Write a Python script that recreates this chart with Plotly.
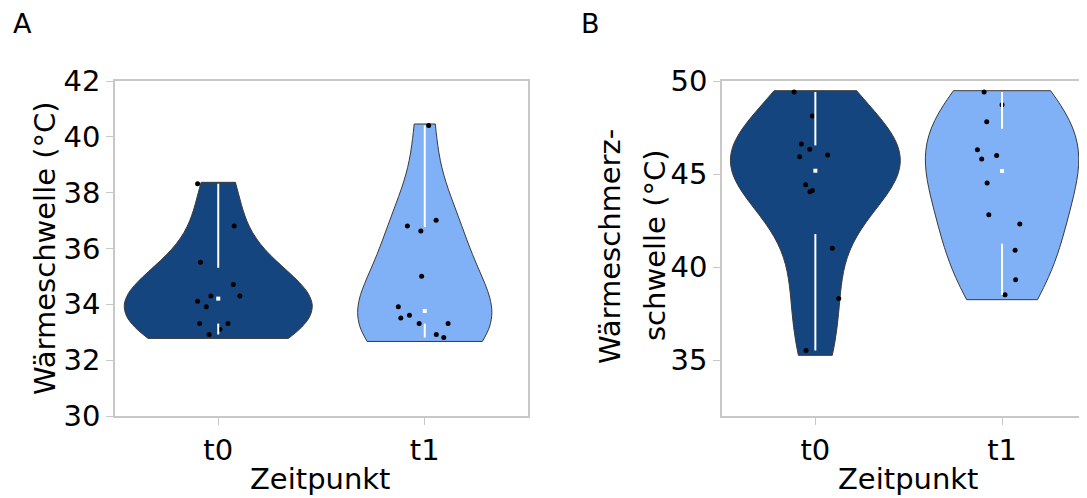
import numpy as np
import plotly.graph_objects as go

# ---------------- data ----------------
categories = ["t0", "t1"]

# Panel A: Wärmeschwelle (°C)
a_t0 = [38.32, 36.81, 35.51, 34.71, 34.30, 34.30, 34.11, 33.91, 33.31, 33.31, 33.11, 32.92]
a_t1 = [40.41, 37.01, 36.81, 36.63, 35.01, 33.91, 33.51, 33.61, 33.31, 33.31, 32.92, 32.81]
a_t0_jit = [-0.100, 0.077, -0.086, 0.073, -0.036, 0.105, -0.100, -0.058, -0.090, 0.047, 0.008, -0.044]
a_t1_jit = [0.019, 0.055, -0.084, -0.019, -0.015, -0.128, -0.116, -0.074, -0.027, 0.113, 0.056, 0.092]

# Panel B: Wärmeschmerzschwelle (°C)
b_t0 = [49.41, 48.12, 46.61, 46.33, 45.93, 46.02, 44.43, 44.05, 44.12, 41.02, 38.32, 35.52]
b_t1 = [49.41, 48.73, 47.81, 46.31, 45.81, 46.00, 44.52, 42.81, 42.31, 40.91, 39.32, 38.51]
b_t0_jit = [-0.114, -0.016, -0.075, -0.030, -0.084, 0.066, -0.052, -0.029, -0.016, 0.091, 0.125, -0.050]
b_t1_jit = [-0.096, 0.000, -0.082, -0.132, -0.109, -0.029, -0.080, -0.071, 0.095, 0.070, 0.073, 0.016]

a_ticks = [30, 32, 34, 36, 38, 40, 42]
b_ticks = [35, 40, 45, 50]

# ---------------- style ----------------
# the page body adds an 8px offset, so the figure is 8px smaller and
# all pixel positions below are the reference positions minus 8
W, H = 1079, 490
FONT = "DejaVu Sans"
COLORS = ["#15457F", "#80B0F5"]
OUTLINE = "#3a3a3a"
FRAME = "#c8c8c8"
TICKFS = 29
TITLEFS = 29

fig = go.Figure()


def add_panel(series, jitters, xa, ya, widths, bws, pad_lo, pad_hi):
    for i, vals in enumerate(series):
        v = np.array(vals, dtype=float)
        fig.add_trace(go.Violin(
            y=v, x0=i, xaxis=xa, yaxis=ya,
            fillcolor=COLORS[i], line=dict(color=OUTLINE, width=1),
            opacity=1, points=False, box_visible=False, meanline_visible=False,
            spanmode="manual", span=[v.min() - pad_lo, v.max() + pad_hi],
            bandwidth=bws[i], scalemode="width", width=widths[i],
            hoverinfo="skip", showlegend=False,
        ))
    for i, (vals, jit) in enumerate(zip(series, jitters)):
        fig.add_trace(go.Scatter(
            x=[i + j for j in jit], y=vals, mode="markers", xaxis=xa, yaxis=ya,
            marker=dict(color="black", size=5), showlegend=False, hoverinfo="skip",
        ))
    for i, vals in enumerate(series):
        v = np.array(vals, dtype=float)
        q1, med, q3 = np.percentile(v, [25, 50, 75], method="weibull")
        fig.add_trace(go.Scatter(
            x=[i, i, None, i, i], y=[v.max(), q3, None, q1, v.min()],
            mode="lines", xaxis=xa, yaxis=ya,
            line=dict(color="white", width=2), showlegend=False, hoverinfo="skip",
        ))
        fig.add_trace(go.Scatter(
            x=[i], y=[med], mode="markers", xaxis=xa, yaxis=ya,
            marker=dict(color="white", size=4, symbol="square", line=dict(width=0)),
            showlegend=False, hoverinfo="skip",
        ))


add_panel([a_t0, a_t1], [a_t0_jit, a_t1_jit], "x", "y",
          widths=[0.91, 0.65], bws=[1.25, 1.6], pad_lo=0.14, pad_hi=0.05)
add_panel([b_t0, b_t1], [b_t0_jit, b_t1_jit], "x2", "y2",
          widths=[0.91, 0.82], bws=[2.3, 2.5], pad_lo=0.26, pad_hi=0.07)

ydom = [1 - 408 / H, 1 - 73 / H]


def axis_style(mirror=True):
    return dict(
        showline=True, linecolor=FRAME, linewidth=1.5, mirror=mirror,
        ticks="outside", ticklen=7, tickcolor=FRAME, tickwidth=1,
        showgrid=False, zeroline=False, automargin=False,
        tickfont=dict(family=FONT, size=TICKFS, color="black"),
    )


def ann(text, x, y, size=TITLEFS, angle=0, xanchor="center"):
    return dict(text=text, x=x / W, y=1 - y / H, xref="paper", yref="paper",
                xanchor=xanchor, yanchor="middle", textangle=angle, showarrow=False,
                align="center", font=dict(family=FONT, size=size))


fig.update_layout(
    width=W, height=H,
    margin=dict(l=0, r=0, t=0, b=0, pad=0),
    plot_bgcolor="white", paper_bgcolor="white",
    font=dict(family=FONT, color="black"),
    showlegend=False,
    xaxis=dict(domain=[107 / W, 520 / W], range=[-0.5, 1.5],
               tickvals=[0, 1], ticktext=categories, anchor="y", **axis_style()),
    yaxis=dict(domain=ydom, range=[30, 42], tickvals=a_ticks, anchor="x", **axis_style()),
    xaxis2=dict(domain=[714 / W, 1.0], range=[-0.5, 1.455],
                tickvals=[0, 1], ticktext=categories, anchor="y2", **axis_style()),
    yaxis2=dict(domain=ydom, range=[32, 50], tickvals=b_ticks, anchor="x2",
                **axis_style(mirror=False)),
    annotations=[
        ann("A", 3, 16, size=27, xanchor="left"),
        ann("B", 571, 16, size=27, xanchor="left"),
        ann("Wärmeschwelle (°C)", 37, 240, angle=-90),
        ann("Wärmeschmerz-", 602, 239, angle=-90),
        ann("schwelle (°C)", 647, 237, angle=-90),
        ann("Zeitpunkt", 312, 471),
        ann("Zeitpunkt", 900, 471),
    ],
)

fig.write_html("out.html")
